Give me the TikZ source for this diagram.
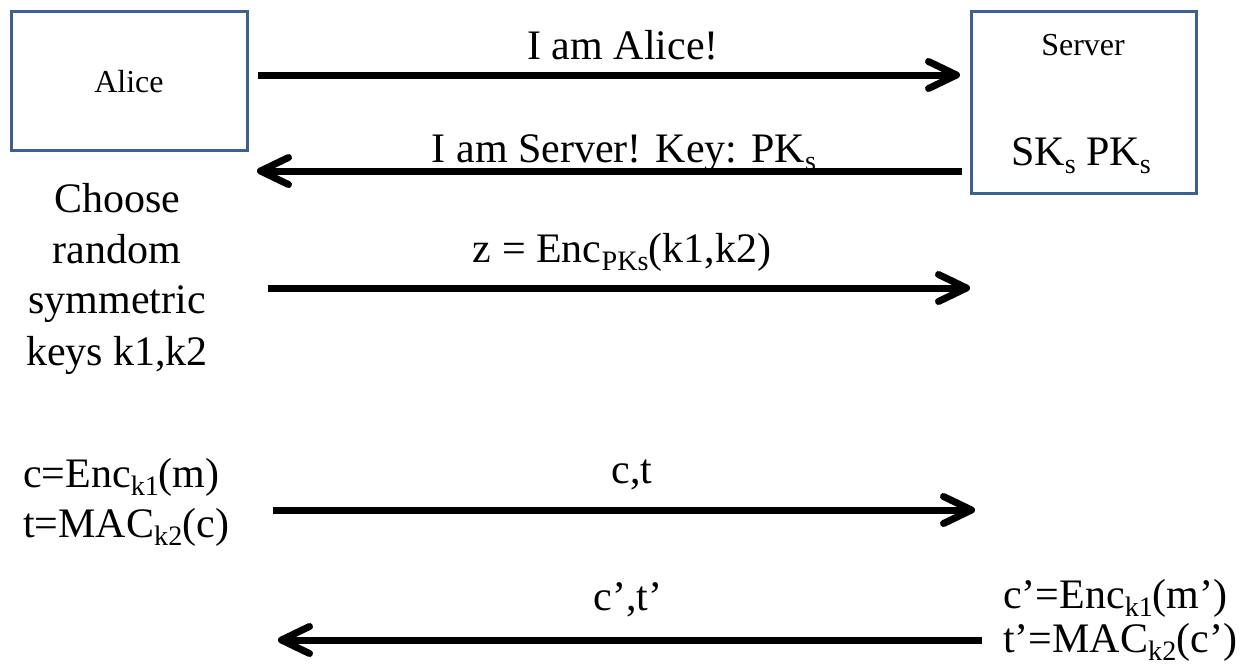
\documentclass[tikz,border=0pt]{standalone}
\usepackage{fontspec}
\usepackage{graphicx}
\setmainfont{Liberation Serif}
\usetikzlibrary{arrows.meta}
\definecolor{boxblue}{RGB}{60,97,144}
\newcommand\lowsub[1]{\raisebox{-0.2em}{\scalebox{0.67}{#1}}}
\newcommand\bigtxt{\fontsize{42}{44}\selectfont}
\newcommand\smalltxt{\fontsize{32}{38}\selectfont}
\begin{document}
\begin{tikzpicture}[x=1pt,y=-1pt,
  party/.style={draw=boxblue, line width=3pt, inner sep=0pt},
  msg/.style={line width=7pt, -{Straight Barb[length=28pt,width=27pt,round]}},
  lbl/.style={anchor=base, inner sep=0pt, font=\bigtxt},
  lblw/.style={anchor=base west, inner sep=0pt, font=\bigtxt},
  slbl/.style={anchor=base, inner sep=0pt, font=\smalltxt}]
\useasboundingbox (0,0) rectangle (1247,664);
% boxes
\node[party, minimum width=236pt, minimum height=139pt] (alice) at (129,80.5) {};
\node[slbl] (alicet) at (129,92) {Alice};
\node[party, minimum width=225pt, minimum height=182pt] (server) at (1083.5,102) {};
\node[slbl] (servert) at (1083,55) {Server};
\node[lbl] (keys) at (1081,165) {SK\lowsub{s} PK\lowsub{s}};
% left texts
\node[lbl] (ch1) at (117,212) {Choose};
\node[lbl] (ch2) at (117,263) {random};
\node[lbl] (ch3) at (117,313) {symmetric};
\node[lbl] (ch4) at (117,365) {keys k1,k2};
\node[lblw] (enc1) at (23,487) {c=Enc\lowsub{k1}(m)};
\node[lblw] (mac1) at (23,537) {t=MAC\lowsub{k2}(c)};
\node[lblw, align=left] (srvcomp) at (1003,652) {c’=Enc\lowsub{k1}(m’)\\t’=MAC\lowsub{k2}(c’)};
% arrow end points
\coordinate (m1s) at (258,75);  \coordinate (m1e) at (960,75);
\coordinate (m2s) at (962,171); \coordinate (m2e) at (257,171);
\coordinate (m3s) at (268,288); \coordinate (m3e) at (970,288);
\coordinate (m4s) at (273,510); \coordinate (m4e) at (975,510);
\coordinate (m5s) at (982,640); \coordinate (m5e) at (278,640);
\draw[msg] (m1s) -- (m1e);
\draw[msg] (m2s) -- (m2e);
\draw[msg] (m3s) -- (m3e);
\draw[msg] (m4s) -- (m4e);
\draw[msg] (m5s) -- (m5e);
% message labels
\node[lbl] (l1) at (623,59) {I am Alice!};
\node[lbl] (l2) at (624,162) {I am Server! Key: PK\lowsub{s}};
\node[lbl] (l3) at (622,262) {z = Enc\lowsub{PKs}(k1,k2)};
\node[lbl] (l4) at (632,483) {c,t};
\node[lbl] (l5) at (628,610) {c’,t’};
\end{tikzpicture}
\end{document}
